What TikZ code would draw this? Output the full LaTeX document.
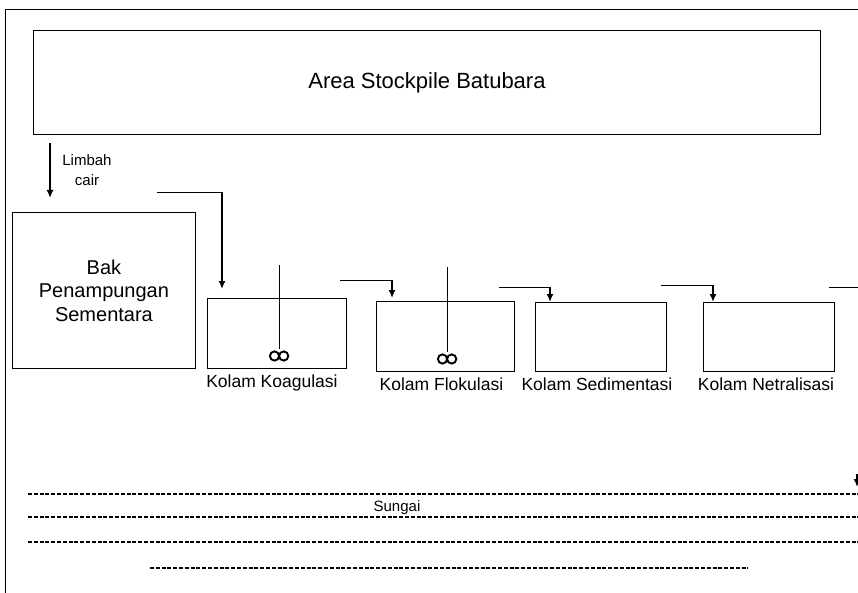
\documentclass[tikz,border=0pt]{standalone}
\usepackage{fontspec}
\setmainfont{Liberation Sans}
\usetikzlibrary{positioning,arrows.meta}

\begin{document}
\begin{tikzpicture}[x=1pt, y=-1pt,
    box/.style={draw, rectangle, anchor=north west, inner sep=0pt, line width=0.9pt},
    lbl/.style={font=\fontsize{17.5}{20}\selectfont, inner sep=0pt},
    pipe/.style={line width=0.8pt},
    flow/.style={-{Latex[length=8pt,width=7pt]}, line width=1.8pt},
    river/.style={line width=1.6pt, dash pattern=on 4pt off 1.8pt},
    mixer/.style={line width=0.8pt}]
    \useasboundingbox (0,0) rectangle (858,593);

    % Frame
    \draw[line width=0.8pt] (5,593) -- (5,9) -- (858,9);

    % Stockpile area
    \node[box, minimum width=787pt, minimum height=104pt, font=\fontsize{22}{26}\selectfont] (area) at (33,30) {Area Stockpile Batubara};
    \coordinate (a1) at (50,143);
    \coordinate (a2) at (50,198);
    \draw[flow] (a1) -- (a2);
    \node[font=\fontsize{15}{20}\selectfont, align=center, inner sep=0pt] (limbah) at (87,170) {Limbah\\cair};

    % Holding tank
    \node[box, minimum width=183pt, minimum height=156pt, align=center, font=\fontsize{20}{23.5}\selectfont] (bak) at (12,212) {Bak\\Penampungan\\Sementara};

    % Ponds
    \node[box, minimum width=139pt, minimum height=70pt] (koag) at (207,298) {};
    \node[box, minimum width=138pt, minimum height=70pt] (flok) at (376,301) {};
    \node[box, minimum width=131pt, minimum height=69pt] (sedi) at (535,302) {};
    \node[box, minimum width=131pt, minimum height=69pt] (netr) at (703,302) {};

    \node[lbl, below=6pt of koag, xshift=-5pt] (lkoag) {Kolam Koagulasi};
    \node[lbl, below=6pt of flok, xshift=-4pt] (lflok) {Kolam Flokulasi};
    \node[lbl, below=6pt of sedi, xshift=-4pt] (lsedi) {Kolam Sedimentasi};
    \node[lbl, below=6pt of netr, xshift=-3pt] (lnetr) {Kolam Netralisasi};

    % Mixers
    \coordinate (m1) at (279,265);
    \node[inner sep=0pt, minimum size=2pt] (mix1) at (279,350) {};
    \draw[mixer] (m1) -- (mix1);
    \draw[line width=1.9pt] (274.5,356) circle (4.6pt) (283.7,356) circle (4.6pt);
    \coordinate (m2) at (447,267);
    \node[inner sep=0pt, minimum size=2pt] (mix2) at (447,353) {};
    \draw[mixer] (m2) -- (mix2);
    \draw[line width=1.9pt] (442.5,359) circle (4.6pt) (451.7,359) circle (4.6pt);

    % Flow between ponds
    \coordinate (p1) at (157,192);
    \coordinate (p1b) at (222,192);
    \coordinate (p1c) at (222,289);
    \draw[pipe] (p1) -- (p1b);
    \draw[flow] (p1b) -- (p1c);

    \coordinate (p2) at (340,280);
    \coordinate (p2b) at (392,280);
    \coordinate (p2c) at (392,298);
    \draw[pipe] (p2) -- (p2b);
    \draw[flow] (p2b) -- (p2c);

    \coordinate (p3) at (499,287);
    \coordinate (p3b) at (550,287);
    \coordinate (p3c) at (550,302);
    \draw[pipe] (p3) -- (p3b);
    \draw[flow] (p3b) -- (p3c);

    \coordinate (p4) at (661,285);
    \coordinate (p4b) at (713,285);
    \coordinate (p4c) at (713,302);
    \draw[pipe] (p4) -- (p4b);
    \draw[flow] (p4b) -- (p4c);

    \coordinate (p5) at (829,287);
    \coordinate (p5b) at (858,287);
    \draw[pipe] (p5) -- (p5b);

    \coordinate (d1) at (857,474);
    \coordinate (d2) at (857,487);
    \draw[flow] (d1) -- (d2);

    % River
    \coordinate (r1a) at (28,494);  \coordinate (r1b) at (858,494);
    \coordinate (r2a) at (28,517);  \coordinate (r2b) at (858,517);
    \coordinate (r3a) at (28,542);  \coordinate (r3b) at (858,542);
    \coordinate (r4a) at (150,568); \coordinate (r4b) at (748,568);
    \draw[river] (r1a) -- (r1b);
    \draw[river] (r2a) -- (r2b);
    \draw[river] (r3a) -- (r3b);
    \draw[river] (r4a) -- (r4b);
    \node[font=\fontsize{15}{17}\selectfont, inner sep=0pt] (sungai) at (397,508) {Sungai};
\end{tikzpicture}
\end{document}
